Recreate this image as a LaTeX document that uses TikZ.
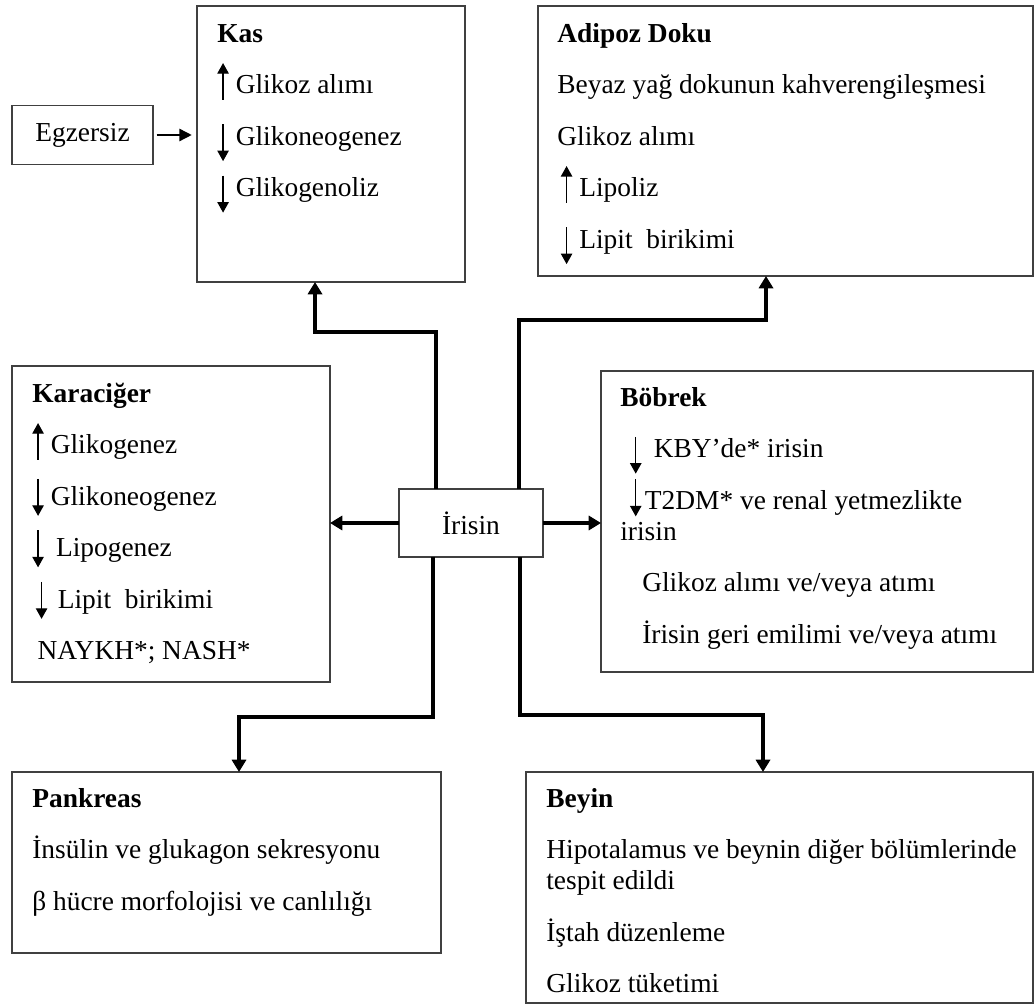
\documentclass[tikz,border=0pt]{standalone}
\usepackage{fontspec}
\setmainfont{Liberation Serif}
\usetikzlibrary{arrows.meta, positioning}

\newcommand{\yukari}{\smash{\tikz[baseline=0pt]\draw[line width=0.7pt,-{Triangle[length=6pt,width=6.5pt]}] (0,-3.5pt) -- (0,17.5pt);}\hspace{4pt}}
\newcommand{\asagi}[1][0pt]{\smash{\tikz[baseline=#1]\draw[line width=0.7pt,-{Triangle[length=6pt,width=6.5pt]}] (0,12pt) -- (0,-9pt);}\hspace{4pt}}
\newcommand{\baslik}[1]{\rule{0pt}{12pt}\textbf{#1}}

\begin{document}
\begin{tikzpicture}[
    box/.style={rectangle, draw=black!75, line width=0.7pt, anchor=north west, inner sep=0pt, outer sep=0pt, font=\fontsize{15.6pt}{17.6pt}\selectfont},
    txt/.style={anchor=north west, yshift=12pt, align=left, inner sep=0pt, font=\fontsize{15.6pt}{17.6pt}\selectfont},
    conn/.style={line width=2.2pt, -{Triangle[length=7pt,width=8pt]}}
]
    \useasboundingbox (0,0) rectangle (20.7,-20.1);

    \node[box, anchor=center, minimum width=2.82cm, minimum height=1.18cm] (egzersiz) at (1.65,-2.7) {Egzersiz};
    \node[box, minimum width=5.36cm, minimum height=5.52cm] (kas) at (3.94,-0.12) {};
    \node[box, minimum width=9.9cm, minimum height=5.4cm] (adipoz) at (10.76,-0.12) {};
    \node[box, minimum width=6.36cm, minimum height=6.32cm] (karaciger) at (0.24,-7.32) {};
    \node[box, anchor=center, minimum width=2.88cm, minimum height=1.36cm] (irisin) at (9.42,-10.46) {İrisin};
    \node[box, minimum width=8.64cm, minimum height=6.02cm] (bobrek) at (12.02,-7.42) {};
    \node[box, minimum width=8.58cm, minimum height=3.62cm] (pankreas) at (0.24,-15.44) {};
    \node[box, minimum width=10.14cm, minimum height=4.62cm] (beyin) at (10.52,-15.44) {};

    % kutu metinleri
    \node[txt] (kasmetin) at ([shift={(0.4,-0.72)}]kas.north west) {\baslik{Kas}\\[11.7pt] \yukari Glikoz alımı\\[11.7pt] \asagi Glikoneogenez\\[11.7pt] \asagi Glikogenoliz};
    \node[txt] (adipozmetin) at ([shift={(0.38,-0.72)}]adipoz.north west) {\baslik{Adipoz Doku}\\[11.7pt] Beyaz yağ dokunun kahverengileşmesi\\[11.7pt] Glikoz alımı\\[11.7pt] \hspace*{2pt}\yukari Lipoliz\\[11.7pt] \hspace*{2pt}\asagi Lipit\ \ birikimi};
    \node[txt] (karacigermetin) at ([shift={(0.4,-0.72)}]karaciger.north west) {\baslik{Karaciğer}\\[11.7pt] \yukari Glikogenez\\[11.7pt] \asagi[-3pt]Glikoneogenez\\[11.7pt] \asagi[-3pt]\hspace{3pt}Lipogenez\\[11.7pt] \hspace*{2pt}\asagi[-3pt]\hspace{2pt}Lipit\ \ birikimi\\[11.7pt] \hspace*{3pt}NAYKH*; NASH*};
    \node[txt] (bobrekmetin) at ([shift={(0.38,-0.7)}]bobrek.north west) {\baslik{Böbrek}\\[11.7pt] \hspace*{5.5pt}\asagi\hspace{3pt}KBY’de* irisin\\[11.7pt] \hspace*{5.5pt}\asagi[-5pt]\hspace{-2pt}T2DM* ve renal yetmezlikte\\ irisin\\[11.7pt] \hspace*{12.5pt}Glikoz alımı ve/veya atımı\\[11.7pt] \hspace*{12.5pt}İrisin geri emilimi ve/veya atımı};
    \node[txt] (pankreasmetin) at ([shift={(0.4,-0.7)}]pankreas.north west) {\baslik{Pankreas}\\[11.7pt] İnsülin ve glukagon sekresyonu\\[11.7pt] β hücre morfolojisi ve canlılığı};
    \node[txt] (beyinmetin) at ([shift={(0.4,-0.7)}]beyin.north west) {\baslik{Beyin}\\[11.7pt] Hipotalamus ve beynin diğer bölümlerinde\\ tespit edildi\\[11.7pt] İştah düzenleme\\[11.7pt] Glikoz tüketimi};

    % oklar
    \draw[line width=0.8pt, -{Triangle[length=7pt,width=7pt]}, shorten <=2pt, shorten >=3pt] (egzersiz.east) -- (egzersiz.east -| kas.west);
    \coordinate (kasdirsek) at (6.3,-6.64);
    \coordinate (adipozdirsek) at (15.32,-6.4);
    \coordinate (pankreasdirsek) at (4.78,-14.34);
    \coordinate (beyindirsek) at (15.26,-14.3);
    \draw[conn] ([xshift=-0.7cm]irisin.north) |- (kasdirsek) -- (kasdirsek |- kas.south);
    \draw[conn] ([xshift=0.96cm]irisin.north) |- (adipozdirsek) -- (adipozdirsek |- adipoz.south);
    \draw[conn] (irisin.west) -- (irisin.west -| karaciger.east);
    \draw[conn] (irisin.east) -- (irisin.east -| bobrek.west);
    \draw[conn] ([xshift=-0.76cm]irisin.south) |- (pankreasdirsek) -- (pankreasdirsek |- pankreas.north);
    \draw[conn] ([xshift=0.98cm]irisin.south) |- (beyindirsek) -- (beyindirsek |- beyin.north);
\end{tikzpicture}
\end{document}
